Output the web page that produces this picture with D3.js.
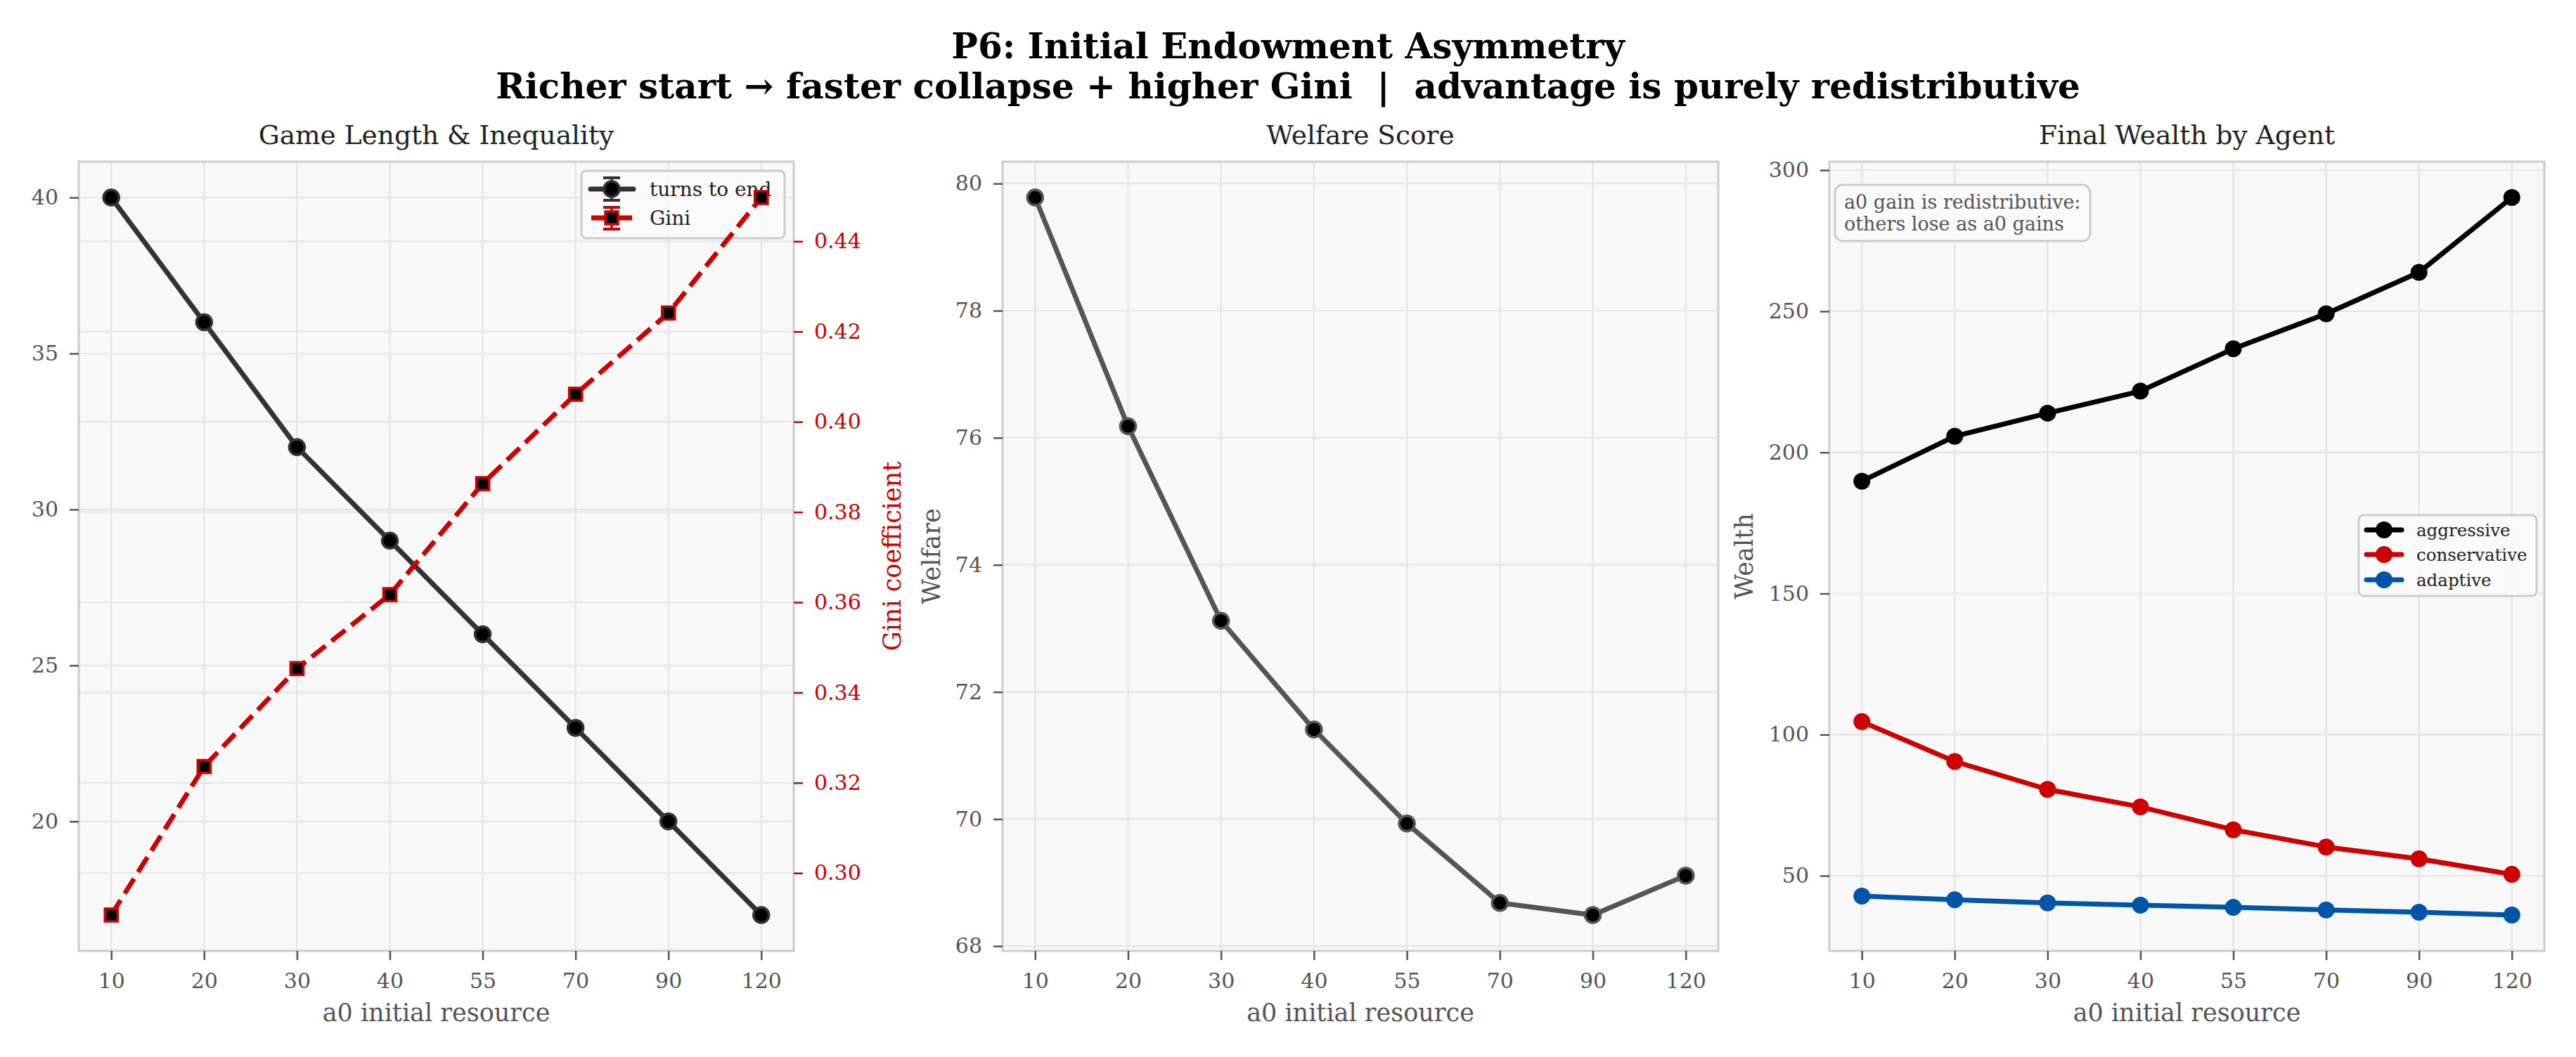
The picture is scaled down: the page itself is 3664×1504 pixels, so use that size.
<!DOCTYPE html>
<meta charset="utf-8">
<head>
    <script src="https://d3js.org/d3.v7.min.js"></script>
    <style>
        body { margin: 0; background: white; }
        text { font-family: "DejaVu Serif", serif; }
    </style>
</head>
<body>
<script type="text/javascript">

    // data
    var a0Levels = ["10", "20", "30", "40", "55", "70", "90", "120"];
    var turnsToEnd = [40, 36, 32, 29, 26, 23, 20, 17];
    var giniCoef = [0.2907, 0.3236, 0.3453, 0.3617, 0.3863, 0.4061, 0.4241, 0.4497];
    var welfareScore = [79.78, 76.18, 73.12, 71.41, 69.93, 68.68, 68.49, 69.11];
    var wealthAggressive = [189.8, 205.7, 213.9, 221.7, 236.7, 249.1, 263.8, 290.3];
    var wealthConservative = [104.6, 90.5, 80.6, 74.4, 66.3, 60.2, 56.0, 50.5];
    var wealthAdaptive = [42.8, 41.5, 40.4, 39.6, 38.8, 37.9, 37.1, 36.1];

    var turnsTicks = [20, 25, 30, 35, 40];
    var giniTicks = [0.30, 0.32, 0.34, 0.36, 0.38, 0.40, 0.42, 0.44];
    var welfareTicks = [68, 70, 72, 74, 76, 78, 80];
    var wealthTicks = [50, 100, 150, 200, 250, 300];

    var agentNames = ["aggressive", "conservative", "adaptive"];
    var agentColors = ["#000000", "#cc0000", "#0055a8"];

    var width = 3664;
    var height = 1504;
    var top_ = 230, bottom_ = 1353;
    var panels = [
        {left: 112, right: 1129},
        {left: 1426, right: 2444},
        {left: 2602, right: 3619}
    ];

    var RED = "#cc0000";
    var TICK_FONT = "30px";

    var svg = d3.select("body")
        .append("svg")
        .attr("width", width)
        .attr("height", height);

    // matplotlib style 5% margins
    function padExtent(arr) {
        var e = d3.extent(arr);
        var m = (e[1] - e[0]) * 0.05;
        return [e[0] - m, e[1] + m];
    }

    function makeX(p) {
        return d3.scalePoint()
            .domain(a0Levels)
            .range([p.left, p.right])
            .padding(0.35);
    }

    function styleAxis(g, color) {
        g.select(".domain").remove();
        g.selectAll(".tick line")
            .attr("stroke", color)
            .attr("stroke-width", 2.5);
        g.selectAll(".tick text")
            .attr("fill", color)
            .style("font-family", "DejaVu Serif")
            .style("font-size", TICK_FONT);
    }

    function drawFrame(p, x, y, yTicks) {
        svg.append("rect")
            .attr("x", p.left)
            .attr("y", top_)
            .attr("width", p.right - p.left)
            .attr("height", bottom_ - top_)
            .attr("fill", "#f8f8f8");

        // grid
        var grid = svg.append("g");
        grid.selectAll(".vg")
            .data(a0Levels)
            .enter()
            .append("line")
            .attr("x1", function (d) { return x(d); })
            .attr("x2", function (d) { return x(d); })
            .attr("y1", top_)
            .attr("y2", bottom_)
            .attr("stroke", "#e5e5e5")
            .attr("stroke-width", 2.2);
        grid.selectAll(".hg")
            .data(yTicks)
            .enter()
            .append("line")
            .attr("x1", p.left)
            .attr("x2", p.right)
            .attr("y1", function (d) { return y(d); })
            .attr("y2", function (d) { return y(d); })
            .attr("stroke", "#e5e5e5")
            .attr("stroke-width", 2.2);
    }

    function drawSpines(p) {
        svg.append("rect")
            .attr("x", p.left)
            .attr("y", top_)
            .attr("width", p.right - p.left)
            .attr("height", bottom_ - top_)
            .attr("fill", "none")
            .attr("stroke", "#cccccc")
            .attr("stroke-width", 3);
    }

    function drawAxes(p, x, y, yTicks, fmt) {
        svg.append("g")
            .attr("transform", "translate(0," + bottom_ + ")")
            .call(d3.axisBottom(x).tickSize(13).tickPadding(18.5))
            .call(styleAxis, "#555555");
        svg.append("g")
            .attr("transform", "translate(" + p.left + ",0)")
            .call(d3.axisLeft(y).tickValues(yTicks).tickSize(13).tickPadding(16).tickFormat(fmt || d3.format("d")))
            .call(styleAxis, "#555555");
    }

    function addTitle(p, txt) {
        svg.append("text")
            .attr("x", (p.left + p.right) / 2)
            .attr("y", 205)
            .attr("text-anchor", "middle")
            .attr("fill", "#222222")
            .style("font-size", "37.5px")
            .text(txt);
    }

    function addXLabel(p) {
        svg.append("text")
            .attr("x", (p.left + p.right) / 2)
            .attr("y", 1453)
            .attr("text-anchor", "middle")
            .attr("fill", "#555555")
            .style("font-size", "35px")
            .text("a0 initial resource");
    }

    function addYLabel(xpos, txt, color) {
        svg.append("text")
            .attr("transform", "translate(" + xpos + "," + ((top_ + bottom_) / 2) + ") rotate(-90)")
            .attr("text-anchor", "middle")
            .attr("fill", color)
            .style("font-size", "35px")
            .text(txt);
    }

    function legendBox(x0, y0, x1, y1) {
        svg.append("rect")
            .attr("x", x0)
            .attr("y", y0)
            .attr("width", x1 - x0)
            .attr("height", y1 - y0)
            .attr("rx", 7)
            .attr("fill", "#fafafa")
            .attr("fill-opacity", 0.9)
            .attr("stroke", "#cccccc")
            .attr("stroke-width", 3);
    }

    // ---------- suptitle ----------
    svg.append("text")
        .attr("x", width / 2)
        .attr("y", 83)
        .attr("text-anchor", "middle")
        .attr("font-weight", "bold")
        .style("font-size", "50px")
        .text("P6: Initial Endowment Asymmetry");
    svg.append("text")
        .attr("x", width / 2)
        .attr("y", 140)
        .attr("text-anchor", "middle")
        .attr("font-weight", "bold")
        .style("font-size", "50px")
        .style("white-space", "pre")
        .text("Richer start \u2192 faster collapse + higher Gini  |  advantage is purely redistributive");

    // ---------- panel 1: game length & gini ----------
    var p1 = panels[0];
    var x1 = makeX(p1);
    var yTurns = d3.scaleLinear().domain(padExtent(turnsToEnd)).range([bottom_, top_]);
    var yGini = d3.scaleLinear().domain(padExtent(giniCoef)).range([bottom_, top_]);

    drawFrame(p1, x1, yTurns, turnsTicks);
    svg.append("g").selectAll("line")
        .data(giniTicks)
        .enter()
        .append("line")
        .attr("x1", p1.left)
        .attr("x2", p1.right)
        .attr("y1", function (d) { return yGini(d); })
        .attr("y2", function (d) { return yGini(d); })
        .attr("stroke", "#e5e5e5")
        .attr("stroke-width", 2.2);
    drawSpines(p1);
    drawAxes(p1, x1, yTurns, turnsTicks);
    svg.append("g")
        .attr("transform", "translate(" + p1.right + ",0)")
        .call(d3.axisRight(yGini).tickValues(giniTicks).tickSize(13).tickPadding(16).tickFormat(d3.format(".2f")))
        .call(styleAxis, RED);

    var turnsLine = d3.line()
        .x(function (d, i) { return x1(a0Levels[i]); })
        .y(function (d) { return yTurns(d); });
    svg.append("path")
        .datum(turnsToEnd)
        .attr("d", turnsLine)
        .attr("fill", "none")
        .attr("stroke", "#333333")
        .attr("stroke-width", 7)
        .attr("stroke-linejoin", "round");
    svg.append("g").selectAll("circle")
        .data(turnsToEnd)
        .enter()
        .append("circle")
        .attr("cx", function (d, i) { return x1(a0Levels[i]); })
        .attr("cy", function (d) { return yTurns(d); })
        .attr("r", 11)
        .attr("fill", "#000000")
        .attr("stroke", "#333333")
        .attr("stroke-width", 3.5);

    // legend (drawn under the twin axis marks)
    legendBox(827, 243, 1116, 339);
    var lg1 = svg.append("g");
    lg1.append("line").attr("x1", 840).attr("x2", 901).attr("y1", 269).attr("y2", 269)
        .attr("stroke", "#333333").attr("stroke-width", 7).attr("stroke-linecap", "round");
    lg1.append("line").attr("x1", 870).attr("x2", 870).attr("y1", 253).attr("y2", 285)
        .attr("stroke", "#333333").attr("stroke-width", 3.5);
    [253, 285].forEach(function (yy) {
        lg1.append("line").attr("x1", 858).attr("x2", 882).attr("y1", yy).attr("y2", yy)
            .attr("stroke", "#333333").attr("stroke-width", 4);
    });
    lg1.append("circle").attr("cx", 870).attr("cy", 269).attr("r", 11)
        .attr("fill", "#000000").attr("stroke", "#333333").attr("stroke-width", 3.5);
    lg1.append("text").attr("x", 924).attr("y", 279).attr("fill", "#222222")
        .style("font-size", "28px").text("turns to end");

    lg1.append("line").attr("x1", 841).attr("x2", 899).attr("y1", 310).attr("y2", 310)
        .attr("stroke", RED).attr("stroke-width", 7).attr("stroke-dasharray", "25,11");
    lg1.append("line").attr("x1", 870).attr("x2", 870).attr("y1", 295).attr("y2", 326)
        .attr("stroke", RED).attr("stroke-width", 3.5);
    [295, 326].forEach(function (yy) {
        lg1.append("line").attr("x1", 858).attr("x2", 882).attr("y1", yy).attr("y2", yy)
            .attr("stroke", RED).attr("stroke-width", 4);
    });
    lg1.append("rect").attr("x", 861).attr("y", 301).attr("width", 18).attr("height", 18)
        .attr("fill", "#000000").attr("stroke", RED).attr("stroke-width", 3.5);
    lg1.append("text").attr("x", 924).attr("y", 320).attr("fill", "#222222")
        .style("font-size", "28px").text("Gini");

    var giniLine = d3.line()
        .x(function (d, i) { return x1(a0Levels[i]); })
        .y(function (d) { return yGini(d); });
    svg.append("path")
        .datum(giniCoef)
        .attr("d", giniLine)
        .attr("fill", "none")
        .attr("stroke", RED)
        .attr("stroke-width", 6.8)
        .attr("stroke-dasharray", "25,11");
    svg.append("g").selectAll("rect")
        .data(giniCoef)
        .enter()
        .append("rect")
        .attr("x", function (d, i) { return x1(a0Levels[i]) - 9; })
        .attr("y", function (d) { return yGini(d) - 9; })
        .attr("width", 18)
        .attr("height", 18)
        .attr("fill", "#000000")
        .attr("stroke", RED)
        .attr("stroke-width", 3.5);

    addTitle(p1, "Game Length & Inequality");
    addXLabel(p1);
    addYLabel(1281, "Gini coefficient", RED);

    // ---------- panel 2: welfare ----------
    var p2 = panels[1];
    var x2 = makeX(p2);
    var yWelfare = d3.scaleLinear().domain(padExtent(welfareScore)).range([bottom_, top_]);

    drawFrame(p2, x2, yWelfare, welfareTicks);
    drawSpines(p2);
    drawAxes(p2, x2, yWelfare, welfareTicks);

    var welfareLine = d3.line()
        .x(function (d, i) { return x2(a0Levels[i]); })
        .y(function (d) { return yWelfare(d); });
    svg.append("path")
        .datum(welfareScore)
        .attr("d", welfareLine)
        .attr("fill", "none")
        .attr("stroke", "#555555")
        .attr("stroke-width", 7)
        .attr("stroke-linejoin", "round");
    svg.append("g").selectAll("circle")
        .data(welfareScore)
        .enter()
        .append("circle")
        .attr("cx", function (d, i) { return x2(a0Levels[i]); })
        .attr("cy", function (d) { return yWelfare(d); })
        .attr("r", 11)
        .attr("fill", "#000000")
        .attr("stroke", "#555555")
        .attr("stroke-width", 3.5);

    addTitle(p2, "Welfare Score");
    addXLabel(p2);
    addYLabel(1337, "Welfare", "#555555");

    // ---------- panel 3: final wealth ----------
    var p3 = panels[2];
    var x3 = makeX(p3);
    var wealthSeries = [wealthAggressive, wealthConservative, wealthAdaptive];
    var yWealth = d3.scaleLinear()
        .domain(padExtent(d3.merge(wealthSeries)))
        .range([bottom_, top_]);

    drawFrame(p3, x3, yWealth, wealthTicks);
    drawSpines(p3);
    drawAxes(p3, x3, yWealth, wealthTicks);

    var wealthLine = d3.line()
        .x(function (d, i) { return x3(a0Levels[i]); })
        .y(function (d) { return yWealth(d); });

    wealthSeries.forEach(function (series, k) {
        svg.append("path")
            .datum(series)
            .attr("d", wealthLine)
            .attr("fill", "none")
            .attr("stroke", agentColors[k])
            .attr("stroke-width", 7)
            .attr("stroke-linejoin", "round");
        svg.append("g").selectAll("circle")
            .data(series)
            .enter()
            .append("circle")
            .attr("cx", function (d, i) { return x3(a0Levels[i]); })
            .attr("cy", function (d) { return yWealth(d); })
            .attr("r", 12)
            .attr("fill", agentColors[k]);
    });

    // annotation box
    svg.append("rect")
        .attr("x", 2610)
        .attr("y", 263)
        .attr("width", 363)
        .attr("height", 80)
        .attr("rx", 11)
        .attr("fill", "#fafafa")
        .attr("fill-opacity", 0.9)
        .attr("stroke", "#cccccc")
        .attr("stroke-width", 3);
    svg.append("text").attr("x", 2623).attr("y", 297).attr("fill", "#555555")
        .style("font-size", "27px").text("a0 gain is redistributive:");
    svg.append("text").attr("x", 2623).attr("y", 328).attr("fill", "#555555")
        .style("font-size", "27px").text("others lose as a0 gains");

    // legend
    legendBox(3355, 733, 3608, 848);
    var rowsY = [754, 789, 825];
    agentNames.forEach(function (name, k) {
        svg.append("line")
            .attr("x1", 3366).attr("x2", 3416)
            .attr("y1", rowsY[k]).attr("y2", rowsY[k])
            .attr("stroke", agentColors[k])
            .attr("stroke-width", 7)
            .attr("stroke-linecap", "round");
        svg.append("circle")
            .attr("cx", 3391).attr("cy", rowsY[k]).attr("r", 12)
            .attr("fill", agentColors[k]);
        svg.append("text")
            .attr("x", 3437).attr("y", rowsY[k] + 9)
            .attr("fill", "#222222")
            .style("font-size", "24.5px")
            .text(name);
    });

    addTitle(p3, "Final Wealth by Agent");
    addXLabel(p3);
    addYLabel(2493, "Wealth", "#555555");

</script>
</body>
</html>
